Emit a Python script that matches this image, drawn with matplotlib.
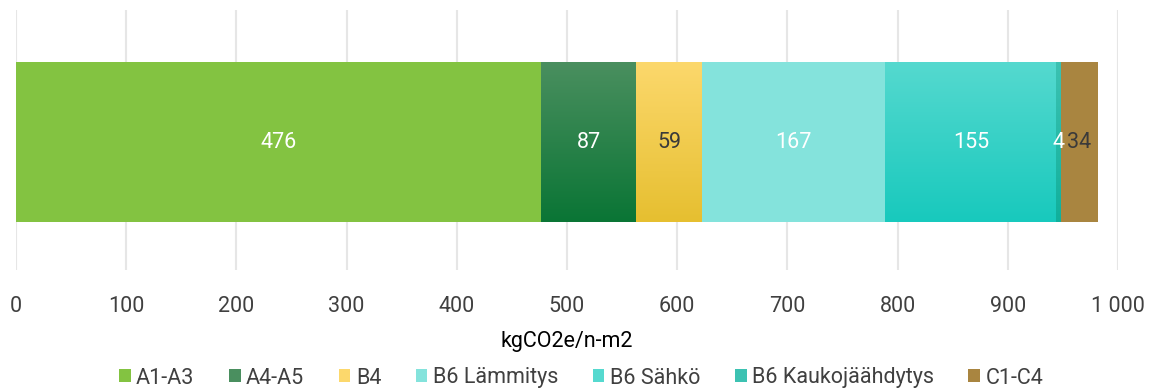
import matplotlib
matplotlib.use("Agg")
import matplotlib.pyplot as plt
import numpy as np
from matplotlib.colors import LinearSegmentedColormap
from matplotlib.patches import Patch

plt.rcParams['font.family'] = ['Roboto', 'DejaVu Sans']

categories = ["A1-A3", "A4-A5", "B4", "B6 Lämmitys", "B6 Sähkö", "B6 Kaukojäähdytys", "C1-C4"]
values = [476, 87, 59, 167, 155, 4, 34]
label_colors = ["white", "white", "#3a3a3a", "white", "white", "white", "#3a3a3a"]
# (top colour, bottom colour) – equal for solid fills
colors = [("#83c341", "#83c341"),
          ("#4a8f5f", "#0a7535"),
          ("#fcd86c", "#e6bf30"),
          ("#84e3dc", "#84e3dc"),
          ("#55d9cf", "#18c9bd"),
          ("#3cc2b2", "#10b09c"),
          ("#a98540", "#a98540")]
xticks = [0, 100, 200, 300, 400, 500, 600, 700, 800, 900, 1000]
xticklabels = ["0", "100", "200", "300", "400", "500", "600", "700", "800", "900", "1 000"]
xlabel = "kgCO2e/n-m2"

FS = 15.5

fig = plt.figure(figsize=(11.62, 3.90), dpi=100)
ax = fig.add_axes([16/1162, 1 - 270/390, (1118-16)/1162, 260/390])

left = 0
for cat, v, (ct, cb), lc in zip(categories, values, colors, label_colors):
    bars = ax.barh(0, v, left=left, height=0.615, color=cb, label=cat, zorder=3)
    b = bars[0]
    if ct != cb:
        cmap = LinearSegmentedColormap.from_list(cat, [cb, ct])
        grad = np.linspace(0, 1, 256).reshape(-1, 1)
        x0, y0 = b.get_x(), b.get_y()
        im = ax.imshow(grad, cmap=cmap, aspect='auto', origin='lower',
                       extent=[x0, x0 + b.get_width(), y0, y0 + b.get_height()], zorder=3.5)
        im.set_clip_path(b)
    ax.text(left + v / 2, 0, str(v), ha='center', va='center', color=lc, fontsize=FS, zorder=5)
    left += v

ax.set_xlim(0, 1000)
ax.set_ylim(-0.4923, 0.5077)
ax.set_xticks(xticks)
ax.set_xticklabels(xticklabels, fontsize=FS, color="#404040")
ax.set_yticks([])
ax.tick_params(axis='x', length=0, pad=19)
ax.grid(axis='x', color="#e6e6e6", linewidth=1.5, zorder=0)
for s in ax.spines.values():
    s.set_visible(False)
ax.set_xlabel(xlabel, fontsize=FS, color="black", labelpad=10)

hs = [Patch(facecolor=c[1] if c[0] == c[1] else c[0], edgecolor='none') for c in colors]
fig.legend(hs, categories, loc='center', bbox_to_anchor=(0.5, 1 - 378/390), ncol=7,
           frameon=False, fontsize=FS, handlelength=0.55, handleheight=0.55,
           handletextpad=0.25, columnspacing=1.6, labelcolor="#404040")

fig.savefig("out.png", dpi=100)
